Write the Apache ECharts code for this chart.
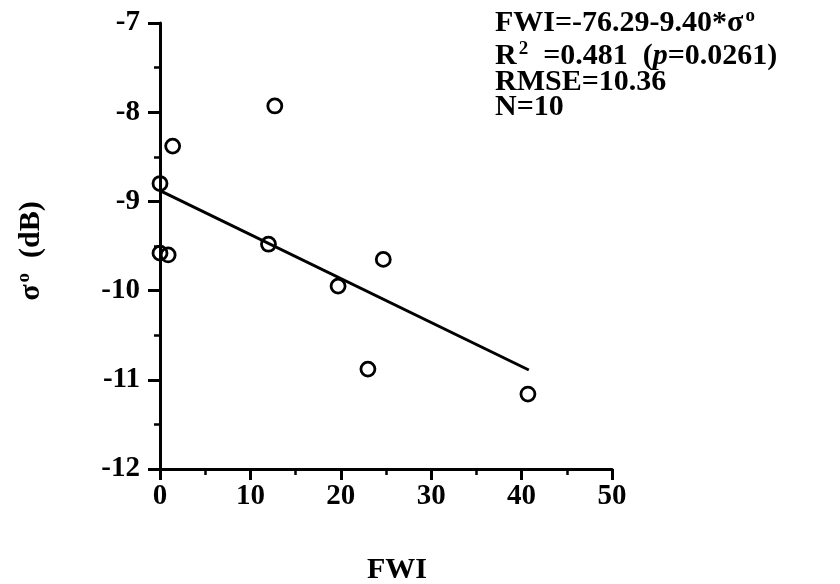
<!DOCTYPE html>
<html>
<head>
<meta charset="utf-8">
<script src="https://cdn.jsdelivr.net/npm/echarts@6/dist/echarts.min.js"></script>
<style>
html,body{margin:0;padding:0;background:#fff;}
#chart{width:840px;height:584px;}
</style>
</head>
<body>
<div id="chart"></div>
<script>
// Data
const fwi   = [0, 0.9, 12.0, 24.7, 19.7, 23.0, 40.7, 12.7, 1.4, 0];
const sigma = [-9.58, -9.60, -9.48, -9.65, -9.95, -10.88, -11.16, -7.93, -8.38, -8.80];
const fitX = [0, 40.8];
const fitY = [-8.88, -10.89];
const xTicks = [0, 10, 20, 30, 40, 50];
const yTicks = [-12, -11, -10, -9, -8, -7];
const annotation = [
  'FWI=-76.29-9.40*σ{sup|o}',
  'R{sup|2}  =0.481  ({i|p}=0.0261)',
  'RMSE=10.36',
  'N=10'
];

const FONT = '"Liberation Serif", "Times New Roman", serif';
const chart = echarts.init(document.getElementById('chart'), null, {renderer: 'canvas'});

const scatterData = fwi.map((x, i) => [x, sigma[i]]);
const fitData = fitX.map((x, i) => [x, fitY[i]]);

const rich = {
  sup: {fontFamily: FONT, fontWeight: 'bold', fontSize: 19, verticalAlign: 'top', padding: [0, 0, 13, 2], color: '#000'},
  i: {fontFamily: FONT, fontWeight: 'bold', fontStyle: 'italic', fontSize: 30, color: '#000'}
};

const annTops = [23, 56, 83, 108];

const option = {
  animation: false,
  backgroundColor: '#fff',
  grid: {left: 160, top: 23, width: 452, height: 446, containLabel: false, outerBoundsMode: 'none'},
  xAxis: {
    type: 'value', min: xTicks[0], max: xTicks[xTicks.length - 1], interval: 10,
    name: 'FWI', nameLocation: 'middle', nameGap: 86,
    nameTextStyle: {fontFamily: FONT, fontWeight: 'bold', fontSize: 30, color: '#000', padding: [0, 0, 0, 22]},
    axisLine: {show: true, onZero: false, lineStyle: {color: '#000', width: 3}},
    axisTick: {show: true, inside: false, length: 11, lineStyle: {color: '#000', width: 3}},
    minorTick: {show: true, splitNumber: 2, length: 6, lineStyle: {color: '#000', width: 2.5}},
    splitLine: {show: false},
    axisLabel: {fontFamily: FONT, fontWeight: 'bold', fontSize: 29, color: '#000', margin: 13,
      formatter: v => xTicks.includes(v) ? String(v) : ''}
  },
  yAxis: {
    type: 'value', min: yTicks[0], max: yTicks[yTicks.length - 1], interval: 1,
    name: 'σ{sup|o}  (dB)', nameLocation: 'middle', nameGap: 113, nameRotate: 90,
    nameTextStyle: {fontFamily: FONT, fontWeight: 'bold', fontSize: 30, color: '#000', rich: rich, padding: [0, 10, 0, 0]},
    axisLine: {show: true, onZero: false, lineStyle: {color: '#000', width: 3}},
    axisTick: {show: true, inside: false, length: 12, lineStyle: {color: '#000', width: 3}},
    minorTick: {show: true, splitNumber: 2, length: 6, lineStyle: {color: '#000', width: 2.5}},
    splitLine: {show: false},
    axisLabel: {fontFamily: FONT, fontWeight: 'bold', fontSize: 29, color: '#000', margin: 20,
      formatter: v => yTicks.includes(v) ? String(v) : ''}
  },
  series: [
    {
      type: 'line', data: fitData, showSymbol: false, symbol: 'none',
      lineStyle: {color: '#000', width: 3}, z: 2, silent: true
    },
    {
      type: 'scatter', data: scatterData, symbol: 'circle', symbolSize: 14, clip: false,
      itemStyle: {color: 'rgba(255,255,255,0)', borderColor: '#000', borderWidth: 2.8, opacity: 1},
      z: 3, silent: true
    }
  ],
  graphic: annotation.map((t, k) => ({
    type: 'text', left: 495, top: annTops[k] - 16,
    style: {text: t, fontFamily: FONT, fontWeight: 'bold', fontSize: 30, fill: '#000', rich: rich}
  }))
};
chart.setOption(option);
</script>
</body>
</html>
